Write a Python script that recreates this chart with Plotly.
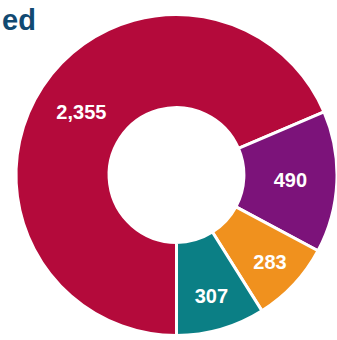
import plotly.graph_objects as go

# Segment data, drawn clockwise starting from the bottom
categories = ["Crimson group", "Purple group", "Orange group", "Teal group"]
values = [2355, 490, 283, 307]
colors = ["#b40a3b", "#7c137a", "#f0911e", "#0b7f85"]
title_text = "ed"

fig = go.Figure(
    go.Pie(
        labels=categories,
        values=values,
        hole=0.42,
        sort=False,
        direction="clockwise",
        rotation=180,
        marker=dict(colors=colors, line=dict(color="white", width=3)),
        texttemplate="<b>%{value:,}</b>",
        textposition="inside",
        insidetextorientation="horizontal",
        textfont=dict(family="Liberation Sans, Arial", size=20, color="white"),
        hoverinfo="label+value+percent",
        showlegend=False,
    )
)

# Heading text in the top-left corner
fig.add_annotation(
    text="<b>" + title_text + "</b>",
    xref="paper", yref="paper",
    x=-16 / 321, y=1.0,
    xanchor="left", yanchor="top",
    yshift=11,
    showarrow=False,
    font=dict(family="Liberation Sans, Arial", size=29, color="#114a72"),
)

fig.update_layout(
    width=337,
    height=340,
    margin=dict(l=16, r=0, t=13, b=3),
    paper_bgcolor="white",
    plot_bgcolor="white",
)

fig.write_html("out.html")
